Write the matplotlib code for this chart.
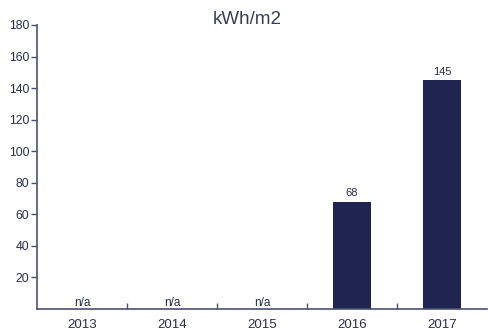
import matplotlib
matplotlib.use("Agg")
import matplotlib.pyplot as plt
import numpy as np

years = ["2013", "2014", "2015", "2016", "2017"]
values = [None, None, None, 68, 145]
y_ticks = [20, 40, 60, 80, 100, 120, 140, 160, 180]
title = "kWh/m2"

bar_color = "#1f2550"
axis_color = "#4b5070"
text_color = "#2a2e4a"

plt.rcParams["font.family"] = ["Liberation Sans", "DejaVu Sans"]

fig = plt.figure(figsize=(4.88, 3.33), dpi=100)
ax = fig.add_axes([37 / 488, 1 - 309 / 333, 450 / 488, (309 - 25) / 333])

x = np.arange(len(years))
for xi, v in zip(x, values):
    if v is None:
        ax.text(xi, 2, "n/a", ha="center", va="baseline", fontsize=8.5, color=text_color)
    else:
        ax.bar(xi, v, width=0.43, color=bar_color, zorder=2)
        ax.text(xi, v + 3.5, f"{v}", ha="center", va="baseline", fontsize=8, color=text_color)

ax.set_xlim(-0.5, len(years) - 0.5)
ax.set_ylim(0, 180)
ax.set_yticks(y_ticks)
ax.set_yticklabels([str(t) for t in y_ticks], fontsize=8.7, color=text_color)

# Category labels at centres, tick marks between categories
ax.set_xticks(x)
ax.set_xticklabels(years, fontsize=9.5, color=text_color)
ax.tick_params(axis="x", length=0, pad=7.5)
ax.set_xticks(np.arange(0.5, len(years) - 0.5, 1), minor=True)
ax.tick_params(axis="x", which="minor", direction="in", length=4, width=1, color=axis_color)
ax.tick_params(axis="y", direction="out", length=4, width=1, color=axis_color, pad=1.5)

for side in ("top", "right"):
    ax.spines[side].set_visible(False)
for side in ("left", "bottom"):
    ax.spines[side].set_color(axis_color)
    ax.spines[side].set_linewidth(1.2)

fig.text(247 / 488, 1 - 19.5 / 333, title, ha="center", va="center", fontsize=13.5, color="#3a3d58")

fig.savefig("out.png", dpi=100)
